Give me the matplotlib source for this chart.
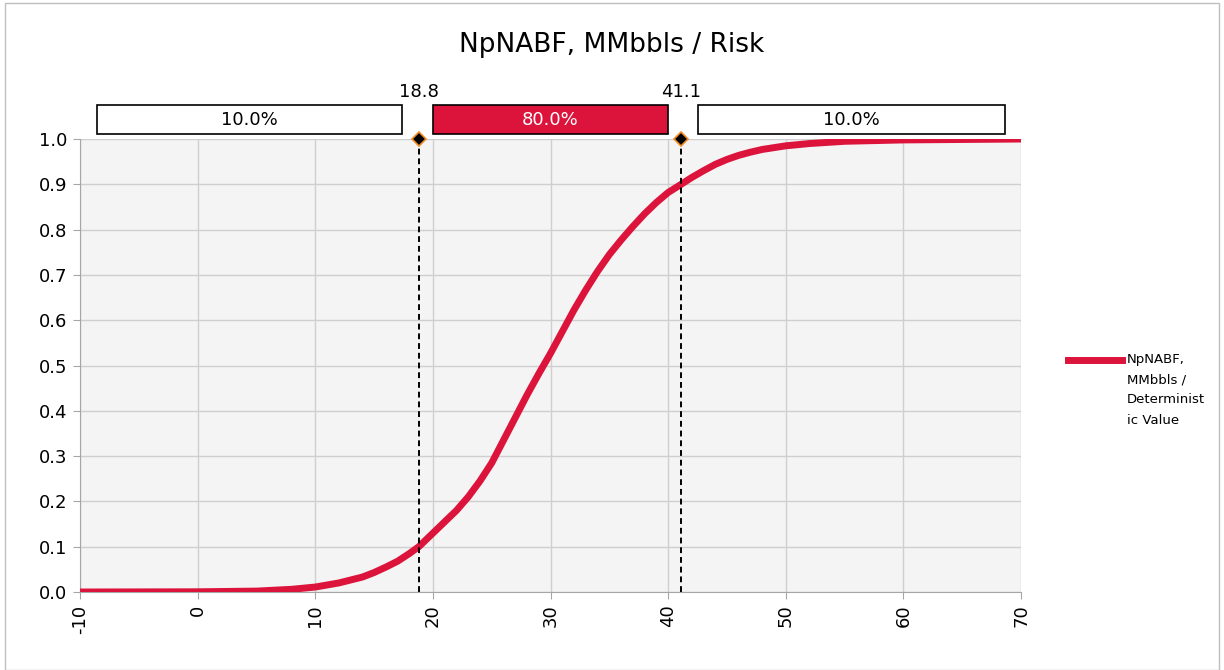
import matplotlib
matplotlib.use('Agg')
import matplotlib.pyplot as plt
from matplotlib.patches import Rectangle
from matplotlib.lines import Line2D

# cumulative curve
x_vals = [-10, 0, 5, 8, 10, 12, 14, 15, 16, 17, 18, 18.8, 20, 21, 22, 23, 24, 25,
          26, 27, 28, 29, 30, 31, 32, 33, 34, 35, 36, 37, 38, 39, 40, 41.1, 42,
          43, 44, 45, 46, 47, 48, 50, 52, 55, 60, 65, 70]
y_vals = [0, 0.0005, 0.002, 0.006, 0.011, 0.02, 0.033, 0.043, 0.055, 0.068, 0.085,
          0.1, 0.13, 0.155, 0.18, 0.21, 0.245, 0.285, 0.335, 0.385, 0.435, 0.482,
          0.527, 0.575, 0.623, 0.667, 0.708, 0.745, 0.777, 0.807, 0.835, 0.86, 0.882,
          0.9, 0.915, 0.93, 0.944, 0.955, 0.964, 0.971, 0.977, 0.985, 0.99, 0.995,
          0.998, 0.999, 1.0]

p10, p90 = 18.8, 41.1
band_labels = ["10.0%", "80.0%", "10.0%"]
x_ticks = [-10, 0, 10, 20, 30, 40, 50, 60, 70]
y_ticks = [0.0, 0.1, 0.2, 0.3, 0.4, 0.5, 0.6, 0.7, 0.8, 0.9, 1.0]

title = "NpNABF, MMbbls / Risk"
legend_lines = ["NpNABF,", "MMbbls /", "Determinist", "ic Value"]

red = "#DC143C"
plt.rcParams['font.family'] = ['DejaVu Sans']

fig = plt.figure(figsize=(12.24, 6.7), dpi=100)
ax = fig.add_axes([0.0654, 0.1164, 0.7688, 0.6761])
ax.set_facecolor("#F4F4F4")

ax.plot(x_vals, y_vals, color=red, linewidth=5, solid_capstyle='butt',
        solid_joinstyle='round', zorder=3)

# percentile markers
for p in (p10, p90):
    ax.plot([p, p], [0, 1], color="black", linestyle=(0, (3, 2)), linewidth=1.4, zorder=4)
    ax.plot([p], [1.0], marker="D", markersize=7, markerfacecolor="black",
            markeredgecolor="#F08A24", markeredgewidth=1.2, clip_on=False, zorder=5)
    ax.text(p, 1.085, f"{p:.1f}", ha="center", va="bottom", fontsize=13,
            clip_on=False)

# bands above the plot
xmin, xmax = x_ticks[0], x_ticks[-1]
gap = 1.4
edges = [(xmin + gap, p10 - gap), (p10 + 1.2, p90 - 1.1), (p90 + gap, xmax - gap)]
for i, ((a, b), lab) in enumerate(zip(edges, band_labels)):
    fc = red if i == 1 else "white"
    tc = "white" if i == 1 else "black"
    ax.add_patch(Rectangle((a, 1.011), b - a, 0.064, facecolor=fc, edgecolor="black",
                           linewidth=1.2, clip_on=False, zorder=5))
    ax.text((a + b) / 2, 1.043, lab, ha="center", va="center", fontsize=13,
            color=tc, clip_on=False, zorder=6)

ax.set_xlim(xmin, xmax)
ax.set_ylim(0, 1)
ax.set_xticks(x_ticks)
ax.set_xticklabels([str(t) for t in x_ticks], rotation=90, fontsize=13)
ax.set_yticks(y_ticks)
ax.set_yticklabels([f"{t:.1f}" for t in y_ticks], fontsize=13)
ax.grid(True, color="#CFCFCF", linewidth=1)
ax.set_axisbelow(True)
for s in ("top", "right"):
    ax.spines[s].set_visible(False)
for s in ("left", "bottom"):
    ax.spines[s].set_color("#A6A6A6")
ax.tick_params(axis="both", color="#A6A6A6", length=5, pad=4)

fig.text(0.5, 0.933, title, ha="center", va="center", fontsize=19)

# legend drawn by hand so the line sits on the first text line
fig.add_artist(Line2D([1068 / 1224, 1122 / 1224], [1 - 360 / 670] * 2, color=red,
                      linewidth=5, transform=fig.transFigure))
for i, line in enumerate(legend_lines):
    fig.text(1127 / 1224, 1 - (360 + 20 * i) / 670, line, ha="left", va="center",
             fontsize=9.5)

# outer border
fig.add_artist(Rectangle((5 / 1224, 0), 1214 / 1224, 1 - 3 / 670, transform=fig.transFigure,
                         fill=False, edgecolor="#BFBFBF", linewidth=1))

fig.savefig("out.png", dpi=100)
